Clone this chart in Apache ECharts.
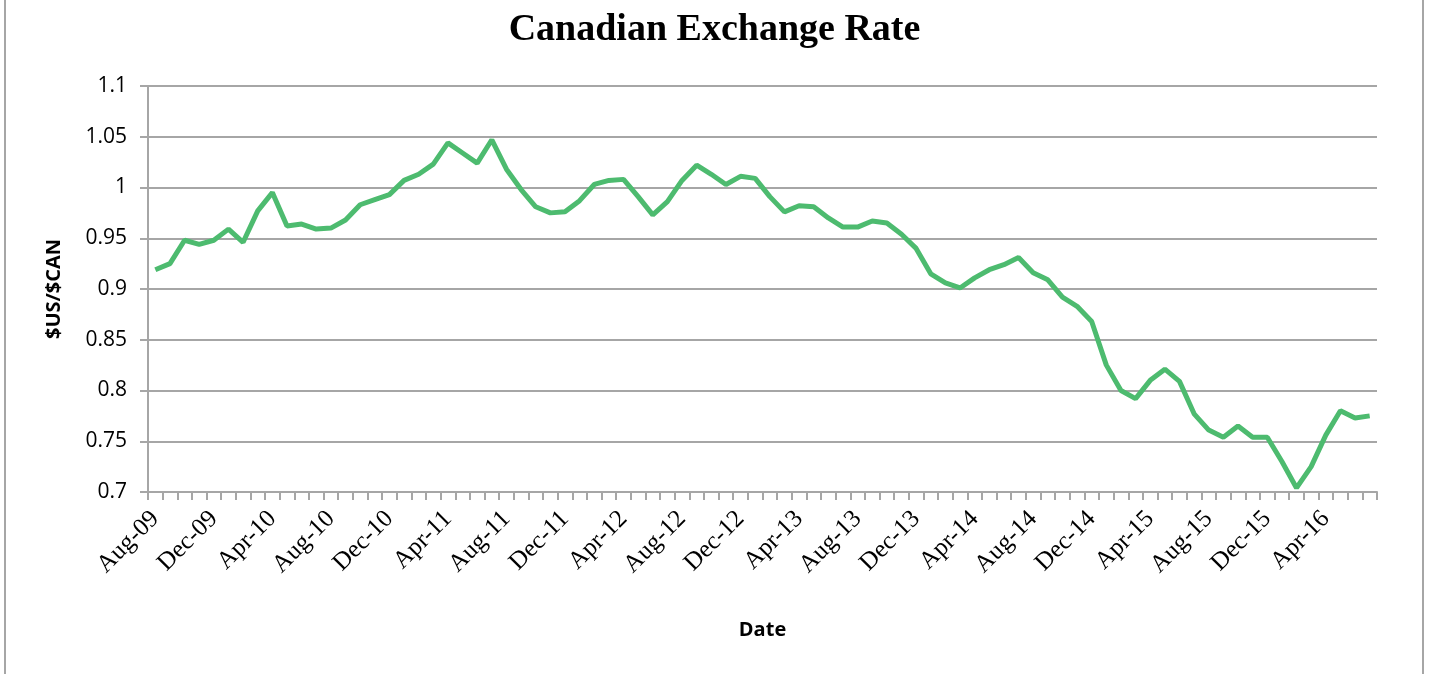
<!DOCTYPE html>
<html>
<head>
<meta charset="utf-8">
<title>Canadian Exchange Rate</title>
<script src="https://cdn.jsdelivr.net/npm/echarts@6/dist/echarts.min.js"></script>
<style>
  html, body { margin: 0; padding: 0; background: #fff; }
  #chart { width: 1429px; height: 674px; }
</style>
</head>
<body>
<div id="chart"></div>
<script>
  // monthly categories, Aug-09 .. Jul-16
  var months = [
    'Aug-09', 'Sep-09', 'Oct-09', 'Nov-09', 'Dec-09',
    'Jan-10', 'Feb-10', 'Mar-10', 'Apr-10', 'May-10', 'Jun-10', 'Jul-10', 'Aug-10', 'Sep-10', 'Oct-10', 'Nov-10', 'Dec-10',
    'Jan-11', 'Feb-11', 'Mar-11', 'Apr-11', 'May-11', 'Jun-11', 'Jul-11', 'Aug-11', 'Sep-11', 'Oct-11', 'Nov-11', 'Dec-11',
    'Jan-12', 'Feb-12', 'Mar-12', 'Apr-12', 'May-12', 'Jun-12', 'Jul-12', 'Aug-12', 'Sep-12', 'Oct-12', 'Nov-12', 'Dec-12',
    'Jan-13', 'Feb-13', 'Mar-13', 'Apr-13', 'May-13', 'Jun-13', 'Jul-13', 'Aug-13', 'Sep-13', 'Oct-13', 'Nov-13', 'Dec-13',
    'Jan-14', 'Feb-14', 'Mar-14', 'Apr-14', 'May-14', 'Jun-14', 'Jul-14', 'Aug-14', 'Sep-14', 'Oct-14', 'Nov-14', 'Dec-14',
    'Jan-15', 'Feb-15', 'Mar-15', 'Apr-15', 'May-15', 'Jun-15', 'Jul-15', 'Aug-15', 'Sep-15', 'Oct-15', 'Nov-15', 'Dec-15',
    'Jan-16', 'Feb-16', 'Mar-16', 'Apr-16', 'May-16', 'Jun-16', 'Jul-16'
  ];

  // $US per $CAN
  var rates = [
    0.919, 0.925, 0.948, 0.944, 0.948,
    0.959, 0.946, 0.977, 0.995, 0.962, 0.964, 0.959, 0.960, 0.968, 0.983, 0.988, 0.993,
    1.007, 1.013, 1.023, 1.044, 1.034, 1.024, 1.047, 1.018, 0.998, 0.981, 0.975, 0.976,
    0.987, 1.003, 1.007, 1.008, 0.991, 0.973, 0.986, 1.007, 1.022, 1.013, 1.003, 1.011,
    1.009, 0.991, 0.976, 0.982, 0.981, 0.970, 0.961, 0.961, 0.967, 0.965, 0.954, 0.940,
    0.915, 0.906, 0.901, 0.911, 0.919, 0.924, 0.931, 0.916, 0.909, 0.892, 0.883, 0.868,
    0.825, 0.800, 0.792, 0.810, 0.821, 0.809, 0.777, 0.761, 0.754, 0.765, 0.754, 0.754,
    0.730, 0.704, 0.725, 0.756, 0.780, 0.773, 0.775
  ];

  var yMin = 0.7;
  var yMax = 1.1;
  var yStep = 0.05;

  var gridLine = { color: '#a6a6a6', width: 2 };

  var chart = echarts.init(document.getElementById('chart'));
  var option = {
    animation: false,
    backgroundColor: '#fff',
    title: {
      text: 'Canadian Exchange Rate',
      left: 'center',
      top: 6,
      textStyle: {
        fontFamily: 'Liberation Serif',
        fontWeight: 'bold',
        fontSize: 38,
        color: '#000'
      }
    },
    graphic: [
      { type: 'line', shape: { x1: 5, y1: 0, x2: 5, y2: 674 }, style: { stroke: '#a6a6a6', lineWidth: 2 } },
      { type: 'line', shape: { x1: 1423, y1: 0, x2: 1423, y2: 674 }, style: { stroke: '#a6a6a6', lineWidth: 2 } }
    ],
    grid: {
      left: 148,
      right: 52,
      top: 86,
      bottom: 182
    },
    xAxis: [
      {
        // line, ticks and name
        type: 'category',
        data: months,
        boundaryGap: true,
        position: 'bottom',
        name: 'Date',
        nameLocation: 'middle',
        nameGap: 128,
        nameMoveOverlap: false,
        nameTextStyle: {
          fontFamily: 'Open Sans',
          fontWeight: 'bold',
          fontSize: 20,
          color: '#000'
        },
        axisLine: { lineStyle: gridLine },
        axisTick: { show: true, interval: 0, length: 8, lineStyle: gridLine },
        axisLabel: { show: false }
      },
      {
        // month labels, pushed a bit lower
        type: 'category',
        data: months,
        boundaryGap: true,
        position: 'bottom',
        offset: 15,
        axisLine: { show: false },
        axisTick: { show: false },
        axisLabel: {
          interval: 3,
          rotate: 45,
          fontFamily: 'Liberation Serif',
          fontSize: 25,
          color: '#000'
        }
      }
    ],
    yAxis: [
      {
        type: 'value',
        min: yMin,
        max: yMax,
        interval: yStep,
        position: 'left',
        name: '$US/$CAN',
        nameLocation: 'middle',
        nameGap: 84,
        nameRotate: 90,
        nameMoveOverlap: false,
        nameTextStyle: {
          fontFamily: 'Open Sans',
          fontWeight: 'bold',
          fontSize: 20,
          color: '#000'
        },
        axisLine: { show: true, lineStyle: gridLine },
        axisTick: { show: true, length: 8, lineStyle: gridLine },
        axisLabel: { show: false },
        splitLine: { lineStyle: gridLine }
      },
      {
        type: 'value',
        min: yMin,
        max: yMax,
        interval: yStep,
        position: 'left',
        offset: 13,
        axisLine: { show: false },
        axisTick: { show: false },
        splitLine: { show: false },
        axisLabel: {
          fontFamily: 'Open Sans',
          fontSize: 21,
          color: '#000',
          formatter: function (v) { return String(+v.toFixed(2)); }
        }
      }
    ],
    series: [
      {
        name: '$US/$CAN',
        type: 'line',
        xAxisIndex: 0,
        yAxisIndex: 0,
        data: rates,
        symbol: 'none',
        smooth: false,
        lineStyle: { color: '#4dbb6f', width: 5 },
        itemStyle: { color: '#4dbb6f' }
      }
    ]
  };
  chart.setOption(option);
</script>
</body>
</html>
